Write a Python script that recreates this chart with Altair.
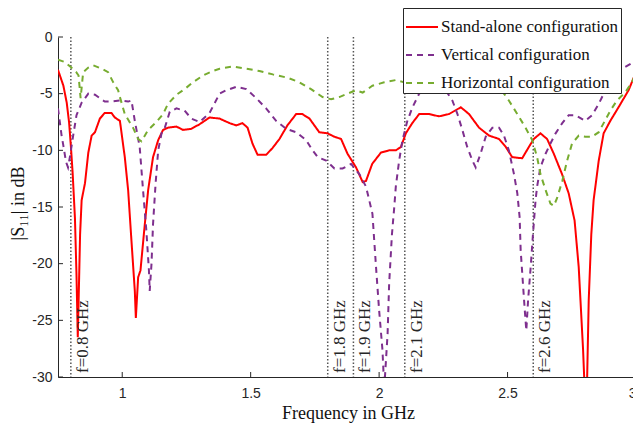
import altair as alt
import pandas as pd

# ---------------- data ----------------
series_names = ["Stand-alone configuration", "Vertical configuration", "Horizontal configuration"]

red_x = [0.750, 0.771, 0.784, 0.793, 0.800, 0.807, 0.816, 0.822, 0.827, 0.832, 0.836, 0.842, 0.855,
         0.868, 0.881, 0.894, 0.913, 0.932, 0.958, 0.971, 0.991, 1.010, 1.023, 1.036, 1.049, 1.053,
         1.062, 1.071, 1.088, 1.101, 1.120, 1.140, 1.159, 1.178, 1.211, 1.237, 1.269, 1.301, 1.340,
         1.379, 1.418, 1.444, 1.468, 1.488, 1.507, 1.527, 1.560, 1.585, 1.612, 1.643, 1.677, 1.701,
         1.729, 1.767, 1.799, 1.826, 1.852, 1.877, 1.910, 1.936, 1.949, 1.973, 2.007, 2.039, 2.065,
         2.085, 2.104, 2.129, 2.156, 2.195, 2.233, 2.272, 2.318, 2.350, 2.389, 2.428, 2.467, 2.493,
         2.518, 2.557, 2.583, 2.602, 2.628, 2.654, 2.680, 2.712, 2.738, 2.761, 2.777, 2.794, 2.800,
         2.809, 2.816, 2.826, 2.835, 2.855, 2.874, 2.900, 2.932, 2.971, 3.000]
red_y = [-2.9, -4.3, -5.8, -7.5, -9.6, -12.0, -16.0, -21.0, -26.5, -21.5, -17.4, -14.4, -12.9,
         -10.2, -8.7, -8.4, -7.2, -6.7, -6.7, -7.1, -7.4, -10.6, -13.5, -18.0, -22.4, -24.8,
         -21.2, -20.6, -16.5, -13.5, -10.6, -9.1, -8.2, -8.0, -7.9, -8.2, -8.1, -7.7, -7.1,
         -7.2, -7.6, -7.8, -7.6, -8.0, -9.4, -10.4, -10.4, -9.8, -9.0, -7.8, -6.8, -6.8,
         -7.2, -8.4, -8.5, -8.8, -9.0, -10.3, -11.5, -12.8, -12.7, -11.2, -10.2, -10.0, -10.0,
         -9.7, -8.5, -7.6, -6.8, -6.8, -7.0, -6.8, -6.2, -6.8, -8.0, -8.7, -9.0, -9.7,
         -10.6, -10.7, -9.7, -9.0, -8.5, -9.0, -10.3, -12.1, -13.8, -16.2, -20.3, -27.6, -31.0,
         -31.0, -23.2, -17.4, -14.4, -10.9, -8.5, -7.4, -6.2, -4.7, -3.1]

purple_x = [0.750, 0.757, 0.764, 0.771, 0.781, 0.789, 0.797, 0.809, 0.822, 0.842, 0.868, 0.894,
            0.932, 0.952, 0.991, 1.023, 1.036, 1.049, 1.068, 1.081, 1.094, 1.104, 1.107, 1.114,
            1.120, 1.130, 1.140, 1.153, 1.166, 1.185, 1.211, 1.243, 1.269, 1.301, 1.340, 1.379,
            1.405, 1.444, 1.483, 1.522, 1.560, 1.599, 1.638, 1.677, 1.716, 1.741, 1.761, 1.794,
            1.826, 1.858, 1.891, 1.923, 1.949, 1.974, 1.988, 2.000, 2.013, 2.020, 2.033, 2.039,
            2.050, 2.059, 2.065, 2.078, 2.091, 2.110, 2.130, 2.156, 2.195, 2.233, 2.259, 2.285,
            2.305, 2.324, 2.343, 2.363, 2.376, 2.395, 2.415, 2.441, 2.467, 2.486, 2.505, 2.525,
            2.538, 2.547, 2.551, 2.560, 2.567, 2.573, 2.580, 2.590, 2.599, 2.609, 2.615, 2.628,
            2.648, 2.667, 2.687, 2.713, 2.738, 2.764, 2.803, 2.829, 2.855, 2.881, 2.913, 2.945,
            2.984, 3.000]
purple_y = [-6.3, -7.5, -8.7, -9.6, -11.0, -11.5, -10.5, -8.7, -6.9, -5.8, -5.0, -5.1,
            -5.7, -5.7, -5.6, -5.7, -5.6, -7.4, -9.7, -13.5, -17.1, -20.6, -22.4, -20.0,
            -16.5, -12.9, -10.0, -8.5, -8.0, -6.6, -6.3, -6.5, -7.2, -7.5, -6.7, -5.0,
            -4.7, -4.4, -4.6, -5.4, -6.3, -7.4, -8.1, -8.4, -9.1, -10.0, -10.6, -10.9,
            -11.6, -11.6, -11.2, -12.1, -13.2, -15.6, -20.3, -24.1, -27.6, -31.0, -26.2, -21.8,
            -17.4, -15.0, -13.2, -10.9, -9.1, -7.4, -6.2, -5.0, -4.3, -4.4, -4.7, -5.6,
            -6.8, -8.2, -9.7, -10.9, -11.5, -10.3, -8.8, -8.0, -8.0, -8.7, -10.0, -12.1,
            -13.8, -15.9, -18.8, -21.8, -24.1, -25.9, -23.2, -20.3, -17.4, -14.4, -13.2, -11.5,
            -10.3, -9.4, -8.5, -7.6, -6.9, -6.9, -7.4, -6.9, -5.9, -4.7, -3.5, -2.8,
            -2.3, -2.2]

green_x = [0.750, 0.776, 0.802, 0.821, 0.830, 0.838, 0.848, 0.868, 0.887, 0.920, 0.945, 0.965,
           0.984, 0.991, 1.010, 1.042, 1.062, 1.075, 1.101, 1.133, 1.159, 1.178, 1.211, 1.243,
           1.275, 1.314, 1.353, 1.379, 1.431, 1.483, 1.534, 1.586, 1.644, 1.690, 1.735, 1.780,
           1.813, 1.845, 1.877, 1.910, 1.936, 1.974, 2.020, 2.065, 2.098, 2.130, 2.156, 2.207,
           2.246, 2.285, 2.337, 2.389, 2.434, 2.467, 2.505, 2.538, 2.570, 2.596, 2.615, 2.628,
           2.648, 2.667, 2.680, 2.693, 2.713, 2.732, 2.751, 2.777, 2.803, 2.829, 2.855, 2.874,
           2.900, 2.926, 2.958, 2.984, 3.000]
green_y = [-2.0, -2.2, -2.7, -3.1, -3.4, -5.4, -3.1, -2.7, -2.5, -2.8, -3.1, -4.0,
           -4.7, -5.3, -6.8, -8.0, -9.0, -9.2, -8.2, -7.5, -6.8, -5.9, -5.1, -4.6,
           -4.0, -3.4, -3.0, -2.8, -2.6, -2.8, -3.0, -3.3, -3.6, -4.0, -4.6, -5.3,
           -5.5, -5.3, -5.0, -4.7, -4.9, -4.3, -4.0, -3.8, -4.0, -4.3, -4.2, -4.1,
           -4.1, -3.8, -3.7, -3.5, -3.5, -4.4, -5.6, -6.8, -8.0, -9.1, -10.6, -12.1,
           -13.5, -14.7, -14.9, -14.2, -12.7, -10.9, -9.4, -8.7, -8.8, -8.8, -8.4, -7.6,
           -6.5, -5.6, -4.9, -4.0, -3.2]

marker_freqs = [0.8, 1.8, 1.9, 2.1, 2.6]
marker_labels = ["f=0.8 GHz", "f=1.8 GHz", "f=1.9 GHz", "f=2.1 GHz", "f=2.6 GHz"]

x_ticks = [1, 1.5, 2, 2.5, 3]
y_ticks = [0, -5, -10, -15, -20, -25, -30]

colors = ["#FF0000", "#7E2F8E", "#77AC30"]
dashes = [[1, 0], [6, 5], [6, 5]]

# ---------------- tables ----------------
rows = []
for name, xs, ys in zip(series_names, [red_x, purple_x, green_x], [red_y, purple_y, green_y]):
    for i, (a, b) in enumerate(zip(xs, ys)):
        rows.append({"f": a, "s11": b, "series": name, "i": i})
df = pd.DataFrame(rows)
markers = pd.DataFrame({"f": marker_freqs, "label": marker_labels})
xt = pd.DataFrame({"v": x_ticks})
yt = pd.DataFrame({"v": y_ticks})

W, H = 578, 340
AX = "#262626"
SERIF = "Liberation Serif"
SANS = "Liberation Sans"

xscale = alt.Scale(domain=[0.75, 3], nice=False, zero=False)
yscale = alt.Scale(domain=[-30, 0], nice=False, zero=False)

legend = alt.Legend(orient="none", legendX=345, legendY=-29, title=None)

lines = alt.Chart(df).mark_line(strokeWidth=2, clip=True).encode(
    x=alt.X("f:Q", scale=xscale,
            axis=alt.Axis(values=x_ticks, title="Frequency in GHz", titleX=290, titleY=36,
                          titleBaseline="middle", labelPadding=9, labelExpr="datum.value + ''",
                          titleFont=SERIF, titleFontSize=18)),
    y=alt.Y("s11:Q", scale=yscale,
            axis=alt.Axis(values=y_ticks, title="|S₁₁| in dB", labelExpr="datum.value + ''",
                          titleX=-40, titleY=166, titleAngle=270, titleAlign="center",
                          titleBaseline="middle", labelPadding=6,
                          titleFont=SERIF, titleFontSize=18)),
    color=alt.Color("series:N", scale=alt.Scale(domain=series_names, range=colors), legend=legend),
    strokeDash=alt.StrokeDash("series:N", scale=alt.Scale(domain=series_names, range=dashes), legend=legend),
    order="i:Q",
)

vlines = alt.Chart(markers).mark_rule(color="#555555", strokeWidth=1.5, strokeDash=[1.5, 2]).encode(
    x=alt.X("f:Q", scale=xscale)
)

vtext = alt.Chart(markers).mark_text(
    angle=270, align="left", baseline="top", dx=4, dy=4,
    font=SERIF, fontSize=17, color="#262626",
).encode(
    x=alt.X("f:Q", scale=xscale),
    y=alt.value(H),
    text="label:N",
)

xtick_marks = alt.Chart(xt).mark_rule(color=AX, strokeWidth=1).encode(
    x=alt.X("v:Q", scale=xscale), y=alt.value(H), y2=alt.value(H - 5)
)
ytick_marks = alt.Chart(yt).mark_rule(color=AX, strokeWidth=1).encode(
    y=alt.Y("v:Q", scale=yscale), x=alt.value(0), x2=alt.value(5)
)

chart = alt.layer(vlines, lines, vtext, xtick_marks, ytick_marks).properties(
    width=W, height=H,
    autosize=alt.AutoSizeParams(type="none"),
    padding={"left": 50, "top": 29, "right": -3, "bottom": 50},
).configure_view(stroke=None).configure_axis(
    grid=False, ticks=False, domainColor=AX, domainWidth=1,
    labelFont=SANS, labelFontSize=14, labelColor=AX,
    titleFont=SERIF, titleFontSize=18, titleFontWeight="normal", titleColor="#111",
).configure_legend(
    strokeColor=AX, fillColor="white", padding=2,
    symbolType="stroke", symbolSize=1024, symbolStrokeWidth=2,
    labelFont=SERIF, labelFontSize=17, labelColor="#111", labelOffset=2,
    rowPadding=3, labelLimit=400,
)

chart.save("out.html", embed_options={"renderer": "svg", "actions": False})
